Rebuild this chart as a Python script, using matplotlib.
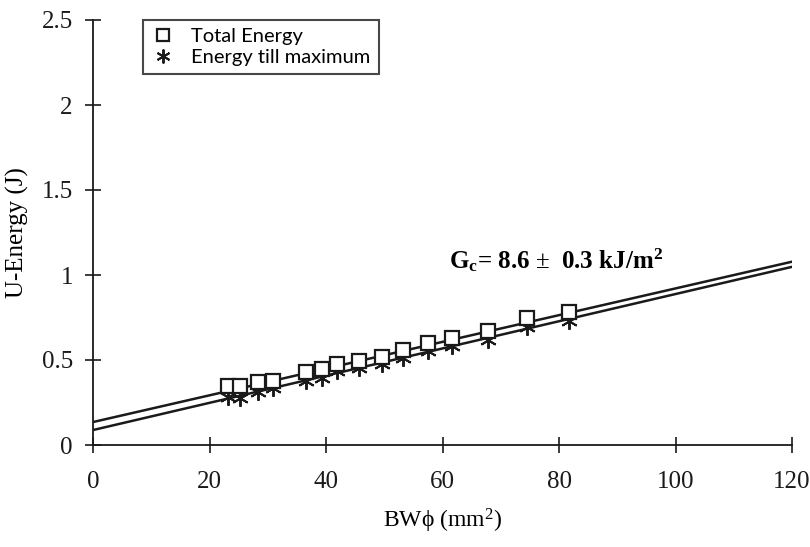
import matplotlib
matplotlib.use("Agg")
import matplotlib.pyplot as plt
import numpy as np

# Data
bw_phi = [23.2, 25.3, 28.3, 30.9, 36.5, 39.3, 41.9, 45.6, 49.6, 53.2, 57.5, 61.6, 67.8, 74.5, 81.7]
total_energy = [0.347, 0.347, 0.371, 0.376, 0.429, 0.447, 0.476, 0.494, 0.518, 0.559, 0.600, 0.629, 0.671, 0.747, 0.782]
energy_max = [0.282, 0.276, 0.312, 0.335, 0.376, 0.394, 0.435, 0.453, 0.476, 0.512, 0.553, 0.582, 0.618, 0.694, 0.729]

# fitted lines (intercept, slope)
fit_total = (0.135, 0.00786)
fit_max = (0.088, 0.00800)
line_x = [0, 120]

x_ticks = [0, 20, 40, 60, 80, 100, 120]
y_ticks = [0, 0.5, 1, 1.5, 2, 2.5]
y_tick_labels = ["0", "0.5", "1", "1.5", "2", "2.5"]

plt.rcParams['font.family'] = ['Liberation Serif', 'DejaVu Serif']
plt.rcParams['mathtext.fontset'] = 'custom'
plt.rcParams['mathtext.rm'] = 'Liberation Serif'
plt.rcParams['mathtext.it'] = 'Liberation Serif:italic'
plt.rcParams['mathtext.bf'] = 'Liberation Serif:bold'

fig = plt.figure(figsize=(8.1, 5.47), dpi=100)
ax = fig.add_axes([93/810, 1-445/547, (792-93)/810, (445-20)/547])

lx = np.array(line_x)
ax.plot(lx, fit_total[0] + fit_total[1]*lx, color='#1a1a1a', lw=1.8, zorder=2)
ax.plot(lx, fit_max[0] + fit_max[1]*lx, color='#1a1a1a', lw=1.8, zorder=2)

ax.plot(bw_phi, total_energy, linestyle='none', marker='s', markersize=10,
        markerfacecolor='white', markeredgecolor='#1a1a1a', markeredgewidth=1.6,
        label='Total Energy', zorder=4)
ax.plot(bw_phi, energy_max, linestyle='none', marker=(6, 2, 0), markersize=12,
        markeredgecolor='#1a1a1a', markeredgewidth=1.4, color='#1a1a1a',
        label='Energy till maximum', zorder=3)

ax.set_xlim(0, 120)
ax.set_ylim(0, 2.5)
ax.set_xticks(x_ticks)
ax.set_yticks(y_ticks)
ax.set_yticklabels(y_tick_labels)
for s in ['top', 'right']:
    ax.spines[s].set_visible(False)
for s in ['left', 'bottom']:
    ax.spines[s].set_linewidth(1.3)
    ax.spines[s].set_color('#1a1a1a')
ax.tick_params(direction='inout', length=11, width=1.2, colors='#1a1a1a',
               labelsize=18, pad=9)
ax.tick_params(axis='x', pad=13)

ax.set_xlabel(r"BW$\mathregular{\phi}$ (mm$^2$)", fontsize=17, labelpad=10)
ax.set_ylabel("U-Energy (J)", fontsize=18, labelpad=9)

ax.text(0.51, 0.435, r"G$_\mathbf{c}$= 8.6 $\pm$  0.3 kJ/m$^\mathbf{2}$",
        transform=ax.transAxes, fontsize=18,
        fontweight='bold', ha='left', va='center')

leg = ax.legend(loc='upper left', bbox_to_anchor=(0.0715, 1.0), borderaxespad=0,
                frameon=True, fancybox=False, edgecolor='#1a1a1a', borderpad=0.4,
                handletextpad=0.8, labelspacing=0.2, handlelength=1.2,
                prop={'family': 'Lato', 'size': 14.5})
leg.get_frame().set_linewidth(1.5)
leg.legend_handles[0].set_markersize(8)
leg.legend_handles[1].set_markersize(10)

fig.savefig("out.png", dpi=100)
